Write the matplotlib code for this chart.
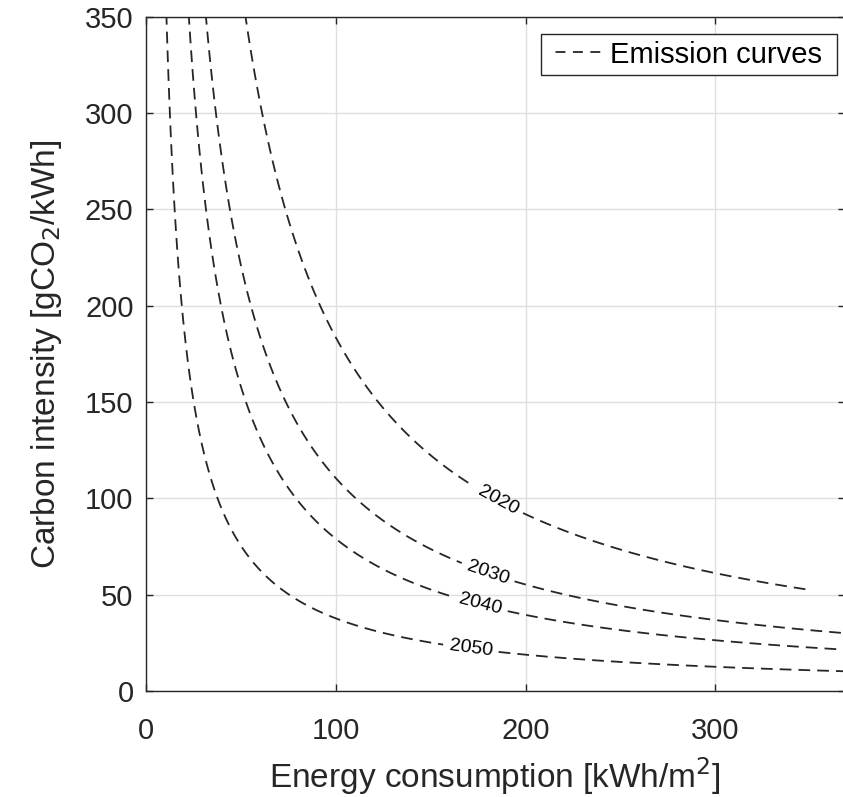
import numpy as np
import matplotlib
matplotlib.use("Agg")
import matplotlib.pyplot as plt
from matplotlib.lines import Line2D

# emission limits expressed as energy x intensity [gCO2/m2]
years = ["2020", "2030", "2040", "2050"]
limits = [18350, 11050, 7900, 3770]
# where each contour label sits (energy, intensity)
label_pos = [(185, 98), (180, 61), (176, 44), (171, 21)]
# the 2020 curve only runs up to this energy
x_end_2020 = 348

x_ticks = [0, 100, 200, 300]
y_ticks = [0, 50, 100, 150, 200, 250, 300, 350]

ink = "#262626"
plt.rcParams["font.family"] = ["Liberation Sans", "DejaVu Sans"]
plt.rcParams["lines.dashed_pattern"] = (6.5, 3.9)

fig = plt.figure(figsize=(8.43, 7.97), dpi=100)
ax = fig.add_axes([0.1732, 0.133, 0.8286, 0.846])

E = np.linspace(1, 372, 900)
C = np.linspace(0.5, 352, 900)
EE, CC = np.meshgrid(E, C)
Z = EE * CC

fmt = {lim: yr for lim, yr in zip(limits, years)}

# 2020 on a grid cut at x_end_2020, the rest on the full grid
Z20 = np.where(EE <= x_end_2020, Z, np.nan)
cs20 = ax.contour(EE, CC, Z20, levels=[limits[0]], colors=ink,
                  linewidths=1.3, linestyles="dashed")
cs = ax.contour(EE, CC, Z, levels=sorted(limits[1:]), colors=ink,
                linewidths=1.3, linestyles="dashed")

ax.clabel(cs20, [limits[0]], manual=[label_pos[0]], inline=True,
          fmt=fmt, fontsize=14, inline_spacing=6, colors="black")
ax.clabel(cs, sorted(limits[1:]), manual=label_pos[1:], inline=True,
          fmt=fmt, fontsize=14, inline_spacing=6, colors="black")

ax.set_xlim(0, 368)
ax.set_ylim(0, 350)
ax.set_xticks(x_ticks)
ax.set_yticks(y_ticks)
ax.grid(True, color="#dfdfdf", linewidth=1)
ax.set_axisbelow(True)
ax.tick_params(direction="in", length=5, width=1, colors=ink,
               labelsize=21, top=True, right=True)
ax.tick_params(axis="x", pad=19)
ax.tick_params(axis="y", pad=9)
for s in ax.spines.values():
    s.set_color(ink)
    s.set_linewidth(1)

ax.set_xlabel("Energy consumption [kWh/m$^2$]", fontsize=24, color=ink,
              labelpad=7)
ax.set_ylabel("Carbon intensity [gCO$_2$/kWh]", fontsize=24, color=ink,
              labelpad=15)

# legend sample: three short dashes
handle = Line2D([], [], color=ink, linewidth=1.3,
                linestyle=(5.5, (5.5, 4.15)))
leg = ax.legend([handle], ["Emission curves "], loc="upper right",
                bbox_to_anchor=(0.989, 0.974), borderaxespad=0,
                fontsize=21, fancybox=False, edgecolor=ink, framealpha=1,
                handlelength=1.99, handletextpad=0.15, borderpad=0.22)
leg.get_frame().set_linewidth(1)

fig.savefig("out.png", dpi=100)
